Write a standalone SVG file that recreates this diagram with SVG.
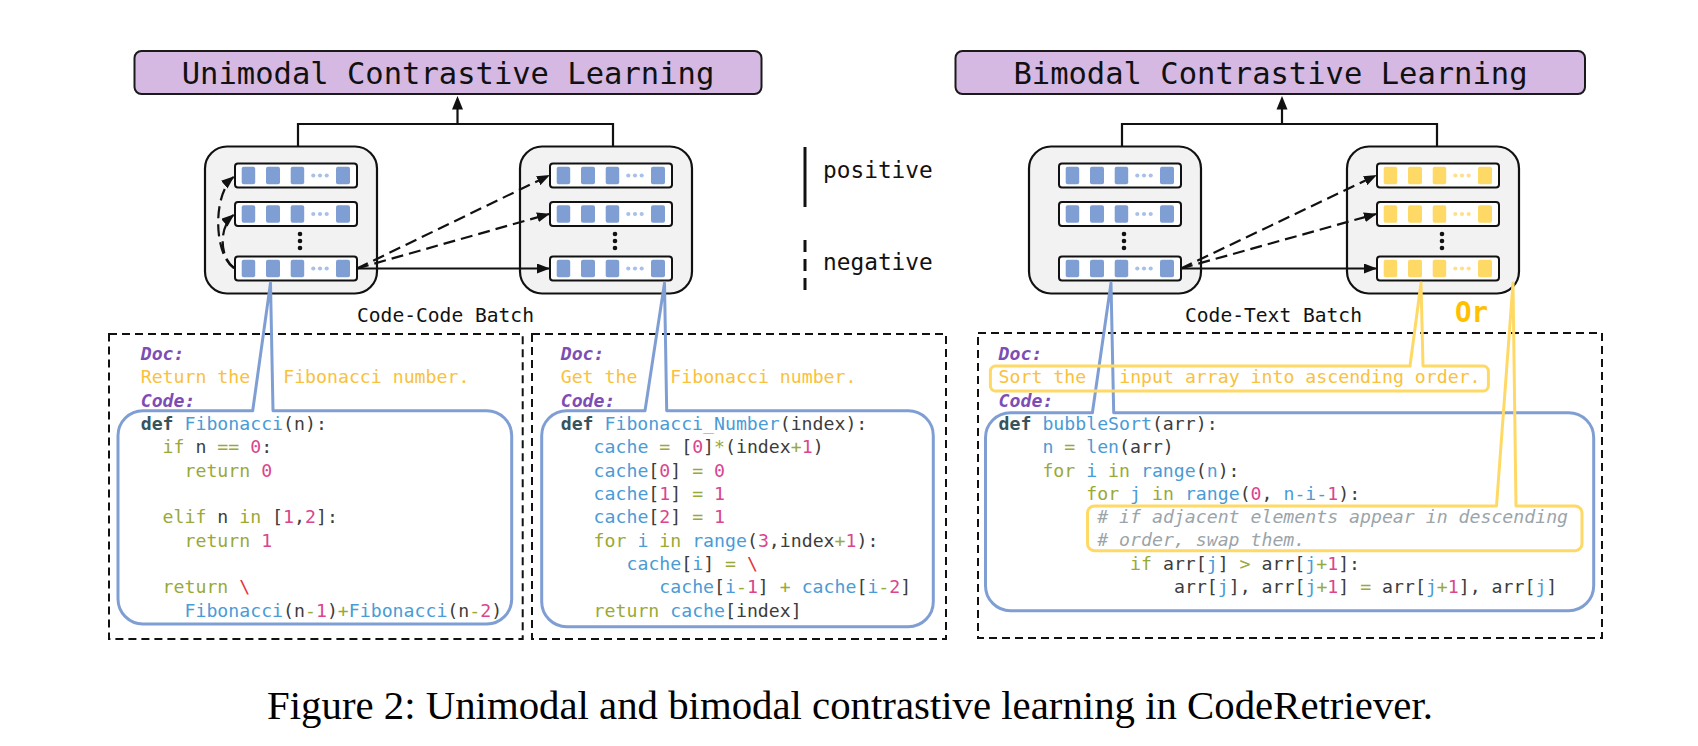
<svg xmlns="http://www.w3.org/2000/svg" xmlns:xlink="http://www.w3.org/1999/xlink" width="1698" height="746" viewBox="0 0 1698 746">
<style>
.m{font-family:"DejaVu Sans Mono","Liberation Mono",monospace}
.title{font-size:30.5px;fill:#111}
.tbox{fill:#d5b9e2;stroke:#1a1a1a;stroke-width:2}
.batch{fill:#f2f2f2;stroke:#111;stroke-width:2.2}
.ln{fill:none;stroke:#111;stroke-width:2.2}
.dash{stroke-dasharray:12 6}
.lbl{font-size:19.6px;fill:#111}
.leg{font-size:22.8px;fill:#111}
.panel{fill:none;stroke:#111;stroke-width:2;stroke-dasharray:8 5}
.cb{fill:none;stroke:#7f9fd4;stroke-width:3;stroke-linejoin:round}
.cy{fill:none;stroke:#ffd966;stroke-width:3;stroke-linejoin:round}
.code{font-size:18.2px;fill:#3c3c3c}
.doc{font-weight:bold;font-style:italic;fill:#7d4db5}
.dt{fill:#f9c13c}
.d{fill:#36545e;font-weight:bold}
.f{fill:#4a9bd6}
.k{fill:#99a935}
.n{fill:#d9468e}
.r{fill:#e3333a}
.c{fill:#9aa4a9;font-style:italic}
.cap{font-family:"Liberation Serif","Times New Roman",serif;font-size:40.8px;fill:#000}
.vec{fill:#fff;stroke:#111;stroke-width:2}
.sqb{fill:#7f9fd4}
.dtb{fill:#a9c0ea}
.sqy{fill:#ffd966}
.dty{fill:#ffe08a}
.vd{fill:#111}
</style>
<defs>
<marker id="ah" viewBox="0 0 13 10" refX="12" refY="5" markerWidth="13" markerHeight="10" markerUnits="userSpaceOnUse" orient="auto"><path d="M0,0 L13,5 L0,10 z" fill="#111"/></marker>
<g id="vecB">
<rect class="vec" x="0" y="0" width="122" height="24" rx="3"/>
<rect class="sqb" x="6.7" y="3.2" width="13.5" height="17.6" rx="2"/>
<rect class="sqb" x="31" y="3.2" width="14" height="17.6" rx="2"/>
<rect class="sqb" x="55.7" y="3.2" width="13.5" height="17.6" rx="2"/>
<circle class="dtb" cx="78.3" cy="12" r="2.1"/><circle class="dtb" cx="85" cy="12" r="2.1"/><circle class="dtb" cx="91.7" cy="12" r="2.1"/>
<rect class="sqb" x="101" y="3.2" width="14" height="17.6" rx="2"/>
</g>
<g id="vecY">
<rect class="vec" x="0" y="0" width="122" height="24" rx="3"/>
<rect class="sqy" x="6.7" y="3.2" width="13.5" height="17.6" rx="2"/>
<rect class="sqy" x="31" y="3.2" width="14" height="17.6" rx="2"/>
<rect class="sqy" x="55.7" y="3.2" width="13.5" height="17.6" rx="2"/>
<circle class="dty" cx="78.3" cy="12" r="2.1"/><circle class="dty" cx="85" cy="12" r="2.1"/><circle class="dty" cx="91.7" cy="12" r="2.1"/>
<rect class="sqy" x="101" y="3.2" width="14" height="17.6" rx="2"/>
</g>
<g id="vdots"><circle class="vd" cx="0" cy="0" r="2.3"/><circle class="vd" cx="0" cy="7" r="2.3"/><circle class="vd" cx="0" cy="14" r="2.3"/></g>
</defs>

<g id="title-unimodal">
<rect class="tbox" x="134.5" y="51" width="627" height="43" rx="7"/>
<text class="m title" x="448" y="84" text-anchor="middle">Unimodal Contrastive Learning</text>
</g>
<g id="title-bimodal">
<rect class="tbox" x="955.5" y="51" width="629.5" height="43" rx="7"/>
<text class="m title" x="1270.5" y="84" text-anchor="middle">Bimodal Contrastive Learning</text>
</g>

<g id="batch-code-1">
<rect class="batch" x="205" y="146.5" width="172" height="147" rx="22"/>
<use xlink:href="#vecB" x="235" y="163.5"/>
<use xlink:href="#vecB" x="235" y="202"/>
<use xlink:href="#vdots" x="300" y="234"/>
<use xlink:href="#vecB" x="235" y="256.5"/>
</g>
<g id="batch-code-2">
<rect class="batch" x="520" y="146.5" width="172" height="147" rx="22"/>
<use xlink:href="#vecB" x="550" y="163.5"/>
<use xlink:href="#vecB" x="550" y="202"/>
<use xlink:href="#vdots" x="615" y="234"/>
<use xlink:href="#vecB" x="550" y="256.5"/>
</g>
<g id="batch-code-3">
<rect class="batch" x="1029" y="146.5" width="172" height="147" rx="22"/>
<use xlink:href="#vecB" x="1059" y="163.5"/>
<use xlink:href="#vecB" x="1059" y="202"/>
<use xlink:href="#vdots" x="1124" y="234"/>
<use xlink:href="#vecB" x="1059" y="256.5"/>
</g>
<g id="batch-text">
<rect class="batch" x="1347" y="146.5" width="172" height="147" rx="22"/>
<use xlink:href="#vecY" x="1377" y="163.5"/>
<use xlink:href="#vecY" x="1377" y="202"/>
<use xlink:href="#vdots" x="1442" y="234"/>
<use xlink:href="#vecY" x="1377" y="256.5"/>
</g>

<g id="label-code-code"><text class="m lbl" x="445.5" y="322" text-anchor="middle">Code-Code Batch</text></g>
<g id="label-code-text"><text class="m lbl" x="1273.5" y="322" text-anchor="middle">Code-Text Batch</text></g>
<g id="label-or"><text class="m" x="1455" y="321.5" font-size="27.5" font-weight="bold" fill="#ffc000">Or</text></g>

<g id="legend-positive">
<line x1="805" y1="147" x2="805" y2="207" stroke="#111" stroke-width="3"/>
<text class="m leg" x="823" y="178">positive</text>
</g>
<g id="legend-negative">
<line x1="805" y1="240" x2="805" y2="294" stroke="#111" stroke-width="3" stroke-dasharray="12 7"/>
<text class="m leg" x="823" y="270">negative</text>
</g>

<g id="panels">
<rect class="panel" x="109" y="334" width="413.7" height="305"/>
<rect class="panel" x="532" y="334" width="414" height="305"/>
<rect class="panel" x="978" y="333" width="624" height="305"/>
</g>

<g id="code-left">
<text class="m code doc" x="140.7" y="360">Doc:</text>
<text class="m code dt" x="140.7" y="383.3">Return the</text>
<text class="m code dt" x="283.2" y="383.3">Fibonacci number.</text>
<text class="m code doc" x="140.7" y="406.6">Code:</text>
<text class="m code" x="140.7" y="430"><tspan class="d">def</tspan> <tspan class="f">Fibonacci</tspan>(n):</text>
<text class="m code" x="162.6" y="453.3"><tspan class="k">if</tspan> n <tspan class="k">==</tspan> <tspan class="n">0</tspan>:</text>
<text class="m code" x="184.5" y="476.6"><tspan class="k">return</tspan> <tspan class="n">0</tspan></text>
<text class="m code" x="162.6" y="523.3"><tspan class="k">elif</tspan> n <tspan class="k">in</tspan> [<tspan class="n">1</tspan>,<tspan class="n">2</tspan>]:</text>
<text class="m code" x="184.5" y="546.6"><tspan class="k">return</tspan> <tspan class="n">1</tspan></text>
<text class="m code" x="162.6" y="593.3"><tspan class="k">return</tspan> <tspan class="r">\</tspan></text>
<text class="m code" x="184.5" y="616.6"><tspan class="f">Fibonacci</tspan>(n<tspan class="k">-</tspan><tspan class="n">1</tspan>)<tspan class="k">+</tspan><tspan class="f">Fibonacci</tspan>(n<tspan class="k">-</tspan><tspan class="n">2</tspan>)</text>
</g>

<g id="code-middle">
<text class="m code doc" x="560.7" y="360">Doc:</text>
<text class="m code dt" x="560.7" y="383.3">Get the</text>
<text class="m code dt" x="670.3" y="383.3">Fibonacci number.</text>
<text class="m code doc" x="560.7" y="406.6">Code:</text>
<text class="m code" x="560.7" y="430"><tspan class="d">def</tspan> <tspan class="f">Fibonacci_Number</tspan>(index):</text>
<text class="m code" x="593.6" y="453.3"><tspan class="f">cache</tspan> <tspan class="k">=</tspan> [<tspan class="n">0</tspan>]<tspan class="k">*</tspan>(index<tspan class="k">+</tspan><tspan class="n">1</tspan>)</text>
<text class="m code" x="593.6" y="476.6"><tspan class="f">cache</tspan>[<tspan class="n">0</tspan>] <tspan class="k">=</tspan> <tspan class="n">0</tspan></text>
<text class="m code" x="593.6" y="500"><tspan class="f">cache</tspan>[<tspan class="n">1</tspan>] <tspan class="k">=</tspan> <tspan class="n">1</tspan></text>
<text class="m code" x="593.6" y="523.3"><tspan class="f">cache</tspan>[<tspan class="n">2</tspan>] <tspan class="k">=</tspan> <tspan class="n">1</tspan></text>
<text class="m code" x="593.6" y="546.6"><tspan class="k">for</tspan> <tspan class="f">i</tspan> <tspan class="k">in</tspan> <tspan class="f">range</tspan>(<tspan class="n">3</tspan>,index<tspan class="k">+</tspan><tspan class="n">1</tspan>):</text>
<text class="m code" x="626.5" y="570"><tspan class="f">cache</tspan>[<tspan class="f">i</tspan>] <tspan class="k">=</tspan> <tspan class="r">\</tspan></text>
<text class="m code" x="659.3" y="593.3"><tspan class="f">cache</tspan>[<tspan class="f">i</tspan><tspan class="k">-</tspan><tspan class="n">1</tspan>] <tspan class="k">+</tspan> <tspan class="f">cache</tspan>[<tspan class="f">i</tspan><tspan class="k">-</tspan><tspan class="n">2</tspan>]</text>
<text class="m code" x="593.6" y="616.6"><tspan class="k">return</tspan> <tspan class="f">cache</tspan>[index]</text>
</g>

<g id="code-right">
<text class="m code doc" x="998.6" y="360">Doc:</text>
<text class="m code dt" x="998.6" y="383.3">Sort the</text>
<text class="m code dt" x="1119.2" y="383.3">input array into ascending order.</text>
<text class="m code doc" x="998.6" y="406.6">Code:</text>
<text class="m code" x="998.6" y="430"><tspan class="d">def</tspan> <tspan class="f">bubbleSort</tspan>(arr):</text>
<text class="m code" x="1042.4" y="453.3"><tspan class="f">n</tspan> <tspan class="k">=</tspan> <tspan class="f">len</tspan>(arr)</text>
<text class="m code" x="1042.4" y="476.6"><tspan class="k">for</tspan> <tspan class="f">i</tspan> <tspan class="k">in</tspan> <tspan class="f">range</tspan>(<tspan class="f">n</tspan>):</text>
<text class="m code" x="1086.3" y="500"><tspan class="k">for</tspan> <tspan class="f">j</tspan> <tspan class="k">in</tspan> <tspan class="f">range</tspan>(<tspan class="n">0</tspan>, <tspan class="f">n-i-</tspan><tspan class="n">1</tspan>):</text>
<text class="m code c" x="1097.2" y="523"># if adjacent elements appear in descending</text>
<text class="m code c" x="1097.2" y="546"># order, swap them.</text>
<text class="m code" x="1130.1" y="570"><tspan class="k">if</tspan> arr[<tspan class="f">j</tspan>] <tspan class="k">&gt;</tspan> arr[<tspan class="f">j</tspan><tspan class="k">+</tspan><tspan class="n">1</tspan>]:</text>
<text class="m code" x="1174" y="593.3">arr[<tspan class="f">j</tspan>], arr[<tspan class="f">j</tspan><tspan class="k">+</tspan><tspan class="n">1</tspan>] <tspan class="k">=</tspan> arr[<tspan class="f">j</tspan><tspan class="k">+</tspan><tspan class="n">1</tspan>], arr[<tspan class="f">j</tspan>]</text>
</g>

<g id="callouts">
<path class="cb" d="M273,410.7 H486.7 A25,25 0 0 1 511.7,435.7 V599 A25,25 0 0 1 486.7,624 H143 A25,25 0 0 1 118,599 V435.7 A25,25 0 0 1 143,410.7 H252.7 L270.5,283 Z"/>
<path class="cb" d="M666.7,410.7 H908.3 A25,25 0 0 1 933.3,435.7 V601.7 A25,25 0 0 1 908.3,626.7 H566.7 A25,25 0 0 1 541.7,601.7 V435.7 A25,25 0 0 1 566.7,410.7 H645 L664.5,283 Z"/>
<path class="cb" d="M1113.7,412.7 H1568.7 A25,25 0 0 1 1593.7,437.7 V585.7 A25,25 0 0 1 1568.7,610.7 H1010.5 A25,25 0 0 1 985.5,585.7 V437.7 A25,25 0 0 1 1010.5,412.7 H1092.4 L1111,283 Z"/>
<path class="cy" d="M1423,366 H1483.4 A5,5 0 0 1 1488.4,371 V386 A5,5 0 0 1 1483.4,391 H995.4 A5,5 0 0 1 990.4,386 V371 A5,5 0 0 1 995.4,366 H1410 L1421,283 Z"/>
<path class="cy" d="M1516,506 H1575 A7,7 0 0 1 1582,513 V543.7 A7,7 0 0 1 1575,550.7 H1094.5 A7,7 0 0 1 1087.5,543.7 V513 A7,7 0 0 1 1094.5,506 H1496.5 L1513,283 Z"/>
</g>

<g id="connectors">
<path class="ln" d="M298,146.5 V124 H613 V146.5"/>
<line class="ln" x1="457.5" y1="124" x2="457.5" y2="108"/>
<polygon points="457.5,96 452,109.5 463,109.5" fill="#111"/>
<path class="ln" d="M1122,146.5 V124 H1437 V146.5"/>
<line class="ln" x1="1282" y1="124" x2="1282" y2="108"/>
<polygon points="1282,96 1276.5,109.5 1287.5,109.5" fill="#111"/>
<path class="ln dash" d="M234,268 C214,255 212,195 233.5,177" marker-end="url(#ah)"/>
<path class="ln dash" d="M234,268 C220,258 218,228 233.5,215" marker-end="url(#ah)"/>
<line class="ln dash" x1="357" y1="268.5" x2="549" y2="175.5" marker-end="url(#ah)"/>
<line class="ln dash" x1="357" y1="268.5" x2="549" y2="214" marker-end="url(#ah)"/>
<line class="ln" x1="357" y1="268.5" x2="549" y2="268.5" marker-end="url(#ah)"/>
<line class="ln dash" x1="1181" y1="268.5" x2="1376" y2="175.5" marker-end="url(#ah)"/>
<line class="ln dash" x1="1181" y1="268.5" x2="1376" y2="214" marker-end="url(#ah)"/>
<line class="ln" x1="1181" y1="268.5" x2="1376" y2="268.5" marker-end="url(#ah)"/>
</g>

<g id="caption"><text class="cap" x="850" y="719" text-anchor="middle">Figure 2: Unimodal and bimodal contrastive learning in CodeRetriever.</text></g>
</svg>
